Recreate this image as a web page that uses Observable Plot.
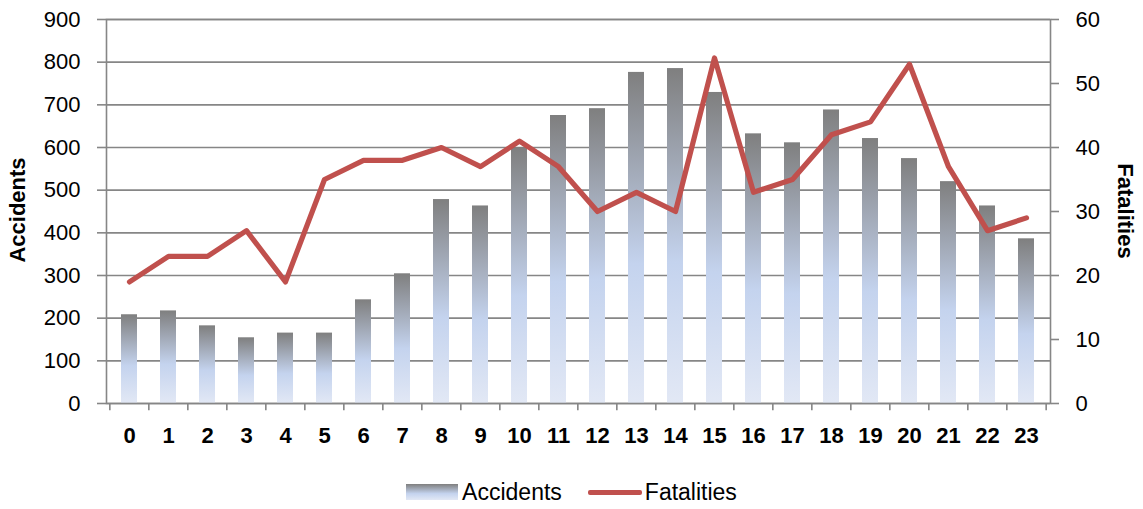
<!DOCTYPE html>
<html><head><meta charset="utf-8">
<script src="https://cdn.jsdelivr.net/npm/d3@7"></script>
<script src="https://cdn.jsdelivr.net/npm/@observablehq/plot@0.6"></script>
<style>
body{margin:0;background:#fff;font-family:"Liberation Sans",Arial,sans-serif;color:#000;}
#chart svg{display:block;}
#legend{height:44px;display:flex;justify-content:center;align-items:center;font-size:23px;padding-top:10px;box-sizing:border-box;}
.item{display:flex;align-items:center;}
.sw1{width:52px;height:16px;background:linear-gradient(#7f7f7f,#c4d3ee 60%,#e2e8f5);margin-right:4px;}
.sw2{width:54px;height:5px;background:#c0504d;border-radius:2px;margin-right:3px;}
</style></head><body>
<div id="chart"></div>
<div id="legend"></div>
<script>
const hours = ["0","1","2","3","4","5","6","7","8","9","10","11","12","13","14","15","16","17","18","19","20","21","22","23"];
const accidents = [208,217,182,154,165,165,243,304,478,463,600,675,691,776,785,729,632,611,688,621,574,520,463,386];
const fatalities = [19,23,23,27,19,35,38,38,40,37,41,37,30,33,30,54,33,35,42,44,53,37,27,29];
const accTicks = [0,100,200,300,400,500,600,700,800,900];
const fatTicks = [0,10,20,30,40,50,60];

const W = 1143, H = 465, mL = 106, mR = 93, mT = 19, mB = 62;
const k = 900 / 60; // fatalities -> accidents axis
const step = (W - mL - mR) / hours.length;
const grid = "#868686";

const accData = hours.map((h, i) => ({hour: h, value: accidents[i]}));
const fatData = hours.map((h, i) => ({hour: h, value: fatalities[i]}));

const plot = Plot.plot({
  width: W, height: H,
  marginLeft: mL, marginRight: mR, marginTop: mT, marginBottom: mB,
  style: {fontFamily: "Liberation Sans, Arial, sans-serif", background: "#fff", color: "#000"},
  x: {type: "band", domain: hours, paddingInner: 0.58, paddingOuter: 0.29, axis: null},
  y: {domain: [0, 900], axis: null},
  marks: [
    Plot.ruleY(accTicks, {stroke: grid, strokeWidth: 1.6}),
    Plot.barY(accData, {x: "hour", y: "value", fill: "url(#barGrad)"}),
    Plot.frame({stroke: grid, strokeWidth: 1.6}),
    Plot.ruleX(hours, {x: d => d, y1: 0, y2: -17, dx: -step / 2, stroke: grid, strokeWidth: 1.6}),
    Plot.ruleX(hours.slice(-1), {x: d => d, y1: 0, y2: -17, dx: step / 2, stroke: grid, strokeWidth: 1.6}),
    Plot.lineY(fatData, {x: "hour", y: d => d.value * k, stroke: "#c0504d", strokeWidth: 5.2, strokeLinejoin: "round", strokeLinecap: "round"}),
    Plot.axisY(accTicks, {anchor: "left", tickSize: 9, tickPadding: 17, fontSize: 22, stroke: grid, strokeWidth: 1.6, label: null}),
    Plot.axisY(fatTicks.map(f => f * k), {anchor: "right", tickSize: 8, tickPadding: 17, fontSize: 22, stroke: grid, strokeWidth: 1.6, tickFormat: d => d / k, label: null}),
    Plot.axisX(hours, {anchor: "bottom", tickSize: 0, tickPadding: 24, fontSize: 22, fontWeight: "bold", label: null})
  ]
});

const svg = d3.select(plot);
const defs = svg.insert("defs", ":first-child");
const g = defs.append("linearGradient").attr("id", "barGrad").attr("x1", 0).attr("y1", 0).attr("x2", 0).attr("y2", 1);
g.append("stop").attr("offset", "0").attr("stop-color", "#7f7f7f");
g.append("stop").attr("offset", "0.58").attr("stop-color", "#c4d3ee");
g.append("stop").attr("offset", "1").attr("stop-color", "#e2e8f5");

svg.append("text").text("Accidents")
  .attr("transform", "translate(25,210) rotate(-90)")
  .attr("text-anchor", "middle").attr("font-size", 22).attr("font-weight", "bold")
  .attr("font-family", "Liberation Sans, Arial, sans-serif");
svg.append("text").text("Fatalities")
  .attr("transform", "translate(1118,211) rotate(90)")
  .attr("text-anchor", "middle").attr("font-size", 22).attr("font-weight", "bold")
  .attr("font-family", "Liberation Sans, Arial, sans-serif");

document.getElementById("chart").appendChild(plot);

const legend = document.getElementById("legend");
legend.innerHTML = `<div class="item"><div class="sw1"></div><span>Accidents</span></div>
<div class="item" style="margin-left:26px"><div class="sw2"></div><span>Fatalities</span></div>`;
</script>
</body></html>
